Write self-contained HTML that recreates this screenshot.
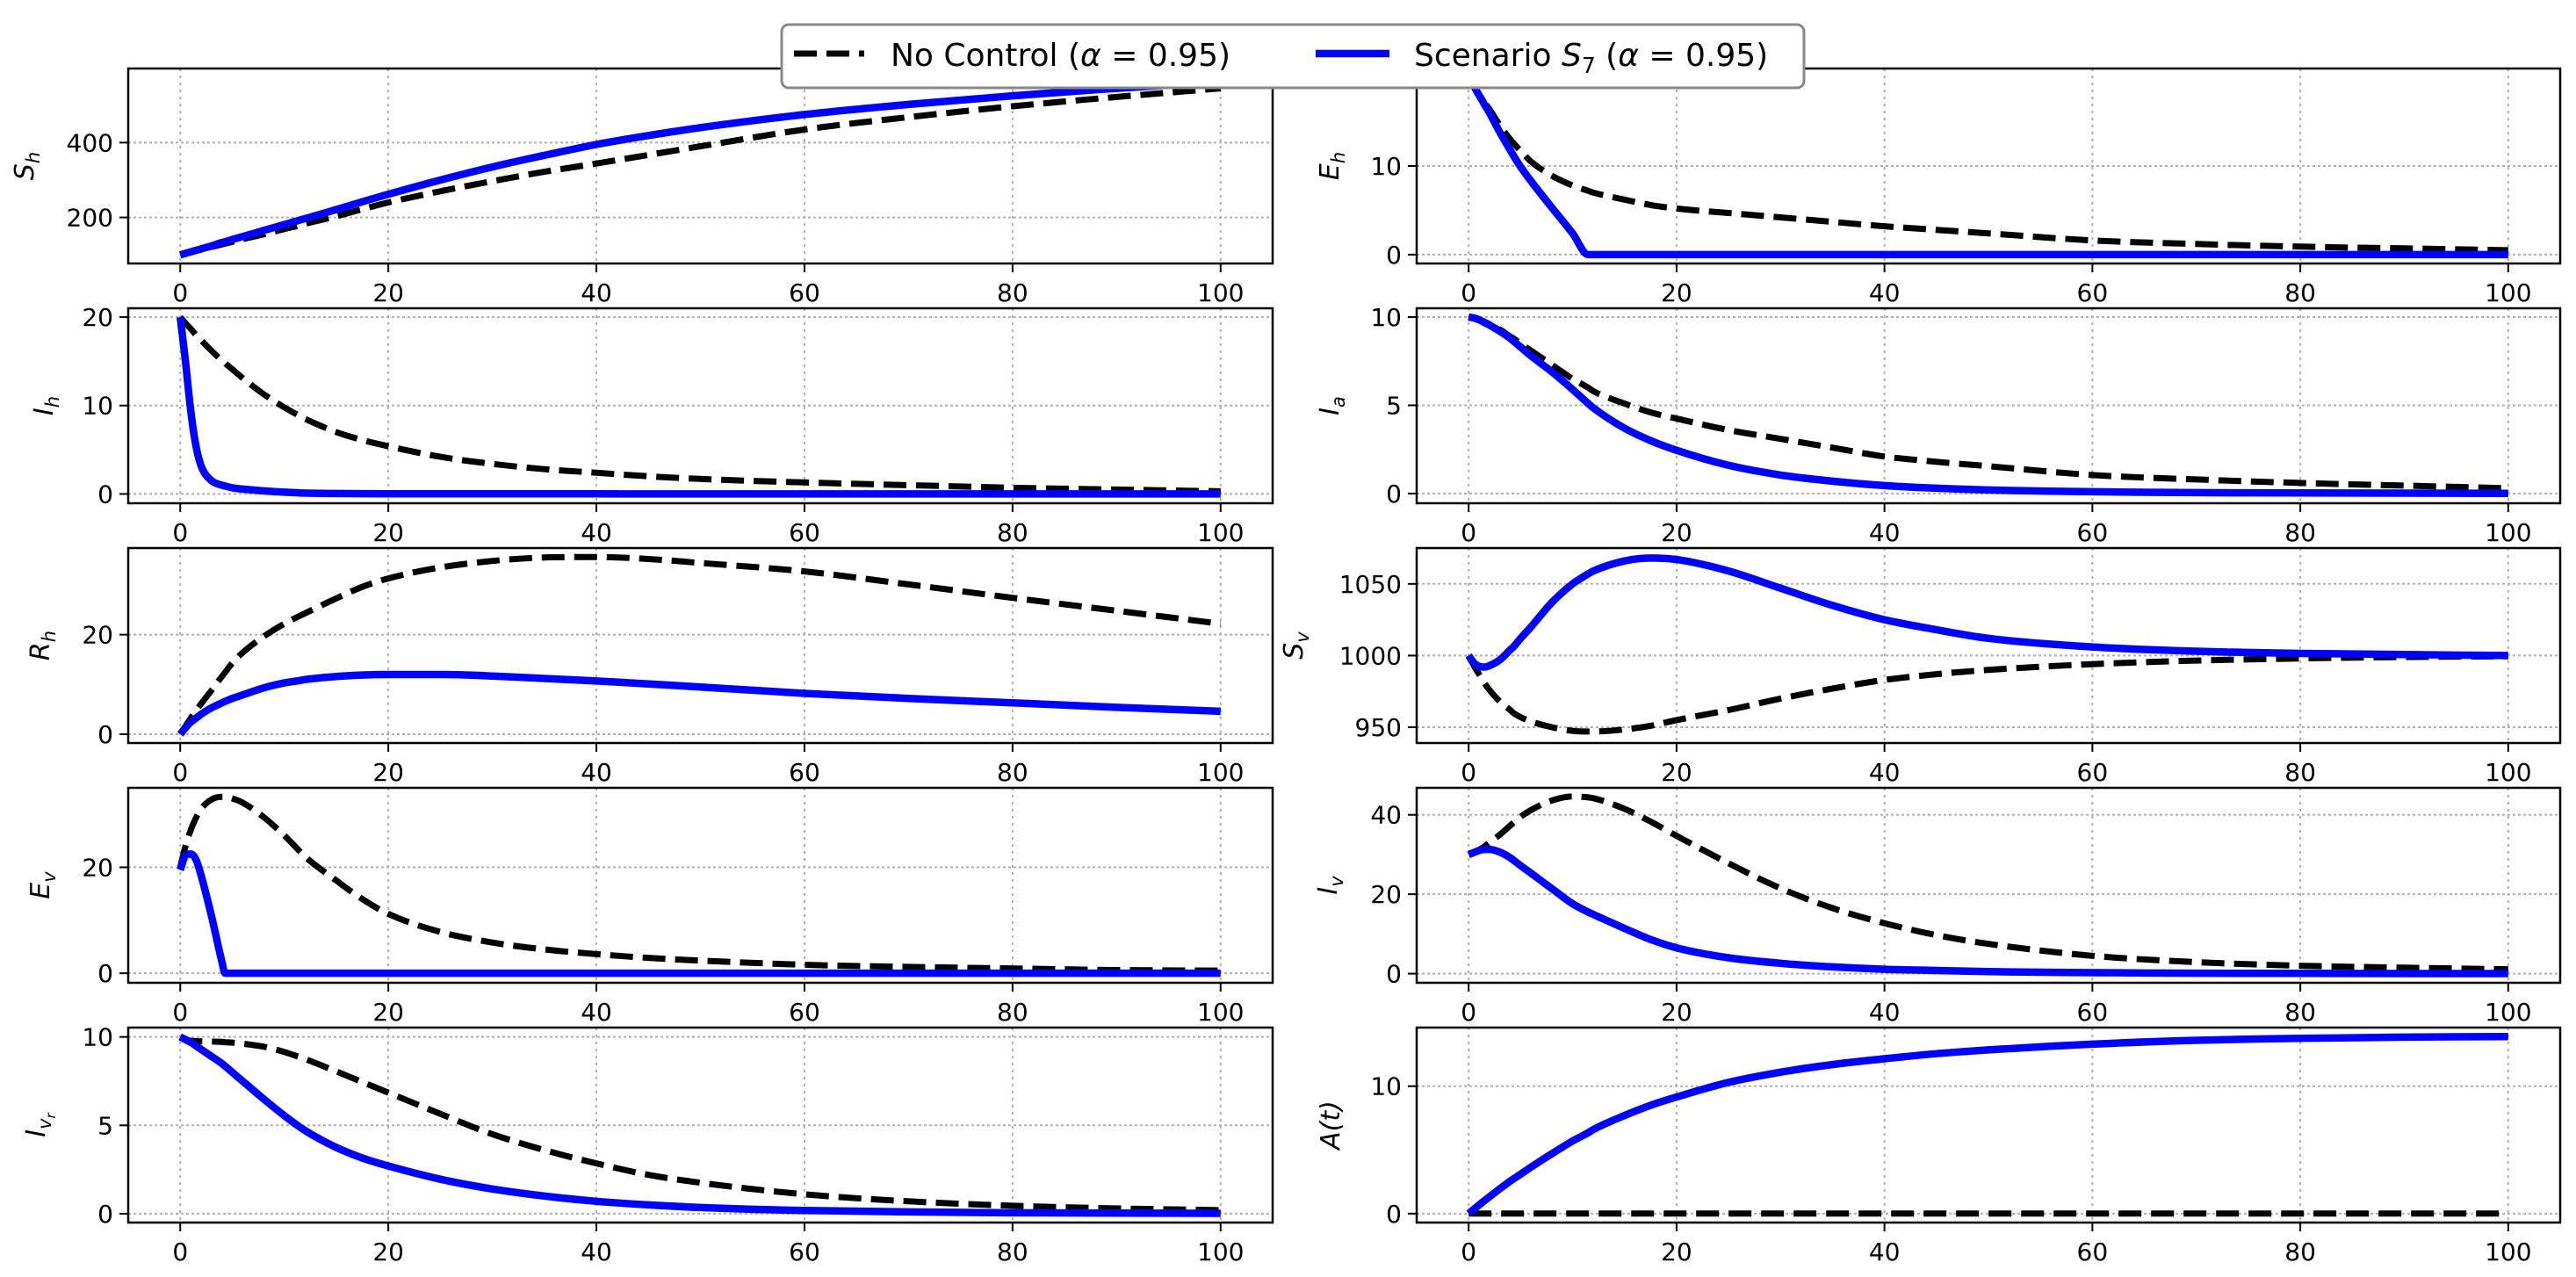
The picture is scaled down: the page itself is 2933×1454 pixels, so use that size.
<!DOCTYPE html>
<html><head><meta charset="utf-8">
<style>
html,body{margin:0;padding:0;background:#fff;}
svg{display:block;font-family:"DejaVu Sans","Liberation Sans",sans-serif;}
</style></head>
<body>
<svg id="fig" width="2933" height="1454" viewBox="0 0 2933 1454" xmlns="http://www.w3.org/2000/svg"></svg>
<script>
const T = [0,0.5,1,1.5,2,3,4,4.3,5,6,8,10,11.5,12,15,17.5,20,25,30,35,40,45,50,60,70,80,90,100];
const xTicks = [0,20,40,60,80,100];

const ShNo = [100,103.5,107,110.5,114,121,128,130,135,142,155,169,179,183,203,222,240,270,297,322,344,367,390,435,468,497,522,545];
const ShS7 = [100,104,108,112,116,124,133,135,141,149,165,181,193,197,221,242,262,300,335,366,395,419,440,475,502,525,545,562];
const EhNo = [20,19,18,17.2,16.4,14.6,13,12.6,11.7,10.5,8.9,7.8,7.2,7,6.2,5.6,5.2,4.7,4.2,3.7,3.2,2.8,2.4,1.6,1.2,0.9,0.7,0.5];
const EhS7 = [20,19,18,17,16,13.8,11.8,11.2,9.9,8.3,5.3,2.4,0,0,0,0,0,0,0,0,0,0,0,0,0,0,0,0];
const IhNo = [20,19.3,18.7,18,17.4,16.2,15.1,14.8,14.1,13.1,11.3,9.8,8.8,8.5,7,6.1,5.4,4.2,3.4,2.8,2.4,2.0,1.7,1.3,1.0,0.7,0.5,0.3];
const IhS7 = [20,15,9.5,5.5,3.2,1.5,1.0,0.9,0.7,0.55,0.35,0.2,0.12,0.1,0.05,0.03,0.02,0.02,0.01,0.01,0.01,0,0,0,0,0,0,0];
const IaNo = [10,9.95,9.85,9.75,9.6,9.3,8.9,8.8,8.5,8.1,7.3,6.5,6.0,5.8,5.1,4.6,4.25,3.6,3.1,2.6,2.1,1.8,1.55,1.05,0.8,0.6,0.45,0.3];
const IaS7 = [10,9.95,9.85,9.7,9.55,9.2,8.8,8.65,8.3,7.8,6.9,5.9,5.1,4.85,3.7,3.0,2.45,1.6,1.05,0.7,0.45,0.3,0.2,0.1,0.05,0.03,0.02,0.01];
const RhNo = [0,1.6,3.2,4.7,6.1,8.8,11.6,12.4,14.3,16.4,19.6,22.2,23.8,24.3,27.3,29.6,31.3,33.5,34.8,35.5,35.6,35.2,34.4,32.7,30.1,27.4,24.8,22.2];
const RhS7 = [0,1.3,2.4,3.2,4,5.3,6.3,6.6,7.2,7.9,9.3,10.3,10.8,11,11.6,11.9,12,12,11.7,11.2,10.7,10.1,9.5,8.2,7.2,6.3,5.4,4.6];
const SvNo = [1000,993,987,981,976,968,962,960,957,954,950,947.5,947,947,948.5,951,955,962,970,977,983,987,990,994,996.5,998,999,999.5];
const SvS7 = [1000,995,992.5,992,993,997,1004,1006,1012,1020,1037,1050,1057,1059,1066,1068,1067,1059,1047,1035,1025,1018,1012,1006,1003,1001.5,1000.7,1000];
const EvNo = [20,24,27,29.3,31,32.8,33.3,33.3,33,32.2,29.5,26,23,22,17.5,14,11.2,7.8,5.8,4.5,3.6,2.9,2.4,1.6,1.2,0.9,0.6,0.5];
const EvS7 = [19.5,22.2,22.5,21.5,18.5,10.8,2.2,0,0,0,0,0,0,0,0,0,0,0,0,0,0,0,0,0,0,0,0,0];
const IvNo = [30,30.5,31.2,32,33,35,37.3,38,39.5,41.2,43.6,44.6,44.4,44.2,41.5,38.3,34.7,27.8,21.5,16.5,12.7,9.7,7.5,4.5,2.9,2.0,1.5,1.1];
const IvS7 = [30,30.5,31,31.3,31.3,30.6,29.2,28.6,27.2,25.3,21.4,17.6,15.5,14.9,11.4,8.6,6.5,4,2.6,1.7,1.1,0.8,0.5,0.25,0.12,0.06,0.03,0.02];
const IvrNo = [10,9.85,9.78,9.76,9.75,9.74,9.72,9.7,9.68,9.62,9.45,9.15,8.85,8.75,8.05,7.45,6.85,5.65,4.5,3.6,2.85,2.2,1.75,1.1,0.7,0.45,0.3,0.2];
const IvrS7 = [10,9.85,9.7,9.5,9.3,8.9,8.5,8.35,8.0,7.5,6.5,5.55,4.9,4.7,3.75,3.15,2.7,1.95,1.4,1.0,0.7,0.5,0.35,0.18,0.1,0.05,0.03,0.02];
const ANo = [0,0,0,0,0,0,0,0,0,0,0,0,0,0,0,0,0,0,0,0,0,0,0,0,0,0,0,0];
const AS7 = [0,0.34,0.67,1.0,1.32,1.95,2.55,2.72,3.1,3.65,4.7,5.7,6.35,6.6,7.7,8.5,9.15,10.3,11.1,11.7,12.15,12.55,12.85,13.3,13.6,13.75,13.85,13.9];

const ShTicks=[200,400], EhTicks=[0,10], IhTicks=[0,10,20], IaTicks=[0,5,10], RhTicks=[0,20];
const SvTicks=[950,1000,1050], EvTicks=[0,20], IvTicks=[0,20,40], IvrTicks=[0,5,10], ATicks=[0,10];

const NS="http://www.w3.org/2000/svg";
const svg=document.getElementById('fig');
function mk(tag,attrs,parent){const e=document.createElementNS(NS,tag);for(const k in attrs)e.setAttribute(k,attrs[k]);(parent||svg).appendChild(e);return e;}

function monoPath(X,Y){
  const n=X.length, d=[], m=new Array(n);
  for(let i=0;i<n-1;i++) d.push((Y[i+1]-Y[i])/(X[i+1]-X[i]));
  m[0]=d[0]; m[n-1]=d[n-2];
  for(let i=1;i<n-1;i++){ m[i]=(d[i-1]*d[i]<=0)?0:(d[i-1]+d[i])/2; }
  for(let i=0;i<n-1;i++){
    if(d[i]===0){m[i]=0;m[i+1]=0;continue;}
    const a=m[i]/d[i], b=m[i+1]/d[i], s=a*a+b*b;
    if(s>9){const t=3/Math.sqrt(s);m[i]=t*a*d[i];m[i+1]=t*b*d[i];}
  }
  let p='M'+X[0].toFixed(1)+','+Y[0].toFixed(1);
  for(let i=0;i<n-1;i++){
    const h=(X[i+1]-X[i])/3;
    p+=' C'+(X[i]+h).toFixed(1)+','+(Y[i]+m[i]*h).toFixed(1)+' '+(X[i+1]-h).toFixed(1)+','+(Y[i+1]-m[i+1]*h).toFixed(1)+' '+X[i+1].toFixed(1)+','+Y[i+1].toFixed(1);
  }
  return p;
}

const colL={x0:146,x1:1449}, colR={x0:1613,x1:2915};
const rowTops=[78,351,624,897,1170]; const AH=222;
const panels=[
 {key:'sh',col:colL,row:0,lim:[77,598],ticks:ShTicks,no:ShNo,s7:ShS7,lab:['S','h'],lx:38},
 {key:'eh',col:colR,row:0,lim:[-1,21],ticks:EhTicks,no:EhNo,s7:EhS7,lab:['E','h'],lx:1524},
 {key:'ih',col:colL,row:1,lim:[-1.05,21],ticks:IhTicks,no:IhNo,s7:IhS7,lab:['I','h'],lx:60},
 {key:'ia',col:colR,row:1,lim:[-0.55,10.5],ticks:IaTicks,no:IaNo,s7:IaS7,lab:['I','a'],lx:1524},
 {key:'rh',col:colL,row:2,lim:[-1.76,37.4],ticks:RhTicks,no:RhNo,s7:RhS7,lab:['R','h'],lx:56},
 {key:'sv',col:colR,row:2,lim:[939,1075],ticks:SvTicks,no:SvNo,s7:SvS7,lab:['S','v'],lx:1483},
 {key:'ev',col:colL,row:3,lim:[-1.8,35],ticks:EvTicks,no:EvNo,s7:EvS7,lab:['E','v'],lx:56},
 {key:'iv',col:colR,row:3,lim:[-2.3,46.8],ticks:IvTicks,no:IvNo,s7:IvS7,lab:['I','v'],lx:1522},
 {key:'ivr',col:colL,row:4,lim:[-0.5,10.53],ticks:IvrTicks,no:IvrNo,s7:IvrS7,lab:['I','vr'],lx:51},
 {key:'a',col:colR,row:4,lim:[-0.7,14.6],ticks:ATicks,no:ANo,s7:AS7,lab:['A(t)',''],lx:1525}
];

panels.forEach((p,i)=>{
  const x0=p.col.x0,x1=p.col.x1,y0=rowTops[p.row],y1=y0+AH;
  const xs=v=>x0+(v+5)/110*(x1-x0);
  const ys=v=>y1-(v-p.lim[0])/(p.lim[1]-p.lim[0])*AH;
  const g=mk('g',{});
  
  
  const cp=mk('clipPath',{id:'cp'+i},g);
  mk('rect',{x:x0,y:y0,width:x1-x0,height:AH},cp);
  xTicks.forEach(t=>{const l=mk('line',{x1:xs(t),x2:xs(t),y1:y0,y2:y1,stroke:'#b0b0b0','stroke-width':2,'stroke-dasharray':'3,5'},g);
    
    });
  p.ticks.forEach(t=>{const l=mk('line',{x1:x0,x2:x1,y1:ys(t),y2:ys(t),stroke:'#b0b0b0','stroke-width':2,'stroke-dasharray':'3,3'},g);
    
    });
  const X=T.map(xs);
  const ln=mk('path',{d:monoPath(X,p.no.map(ys)),fill:'none',stroke:'#000','stroke-width':7,'stroke-dasharray':'26,11','clip-path':'url(#cp'+i+')','stroke-linejoin':'round'},g);
  
  
  const lb=mk('path',{d:monoPath(X,p.s7.map(ys)),fill:'none',stroke:'#0000ff','stroke-width':8.5,'clip-path':'url(#cp'+i+')','stroke-linejoin':'round'},g);
  
  
  const fr=mk('rect',{x:x0,y:y0,width:x1-x0,height:AH,fill:'none',stroke:'#000','stroke-width':2.5},g);
  
  
  xTicks.forEach(t=>{mk('line',{x1:xs(t),x2:xs(t),y1:y1,y2:y1+10,stroke:'#000','stroke-width':2},g);
    const tx=mk('text',{x:xs(t),y:y1+43,'font-size':28,'text-anchor':'middle',fill:'#000'},g);tx.textContent=t;
    
    });
  p.ticks.forEach(t=>{mk('line',{x1:x0-10,x2:x0,y1:ys(t),y2:ys(t),stroke:'#000','stroke-width':2},g);
    const tx=mk('text',{x:x0-17,y:ys(t)+10,'font-size':28,'text-anchor':'end',fill:'#000'},g);tx.textContent=t;
    
    });
  const cy=(y0+y1)/2;
  const yl=mk('text',{x:p.lx,y:cy,'font-size':30,'font-style':'italic','text-anchor':'middle',transform:'rotate(-90 '+p.lx+' '+cy+')',fill:'#000'},g);
  
  
  yl.appendChild(document.createTextNode(p.lab[0]));
  if(p.lab[1]){const ts=mk('tspan',{'font-size':21,dy:7},yl);ts.textContent=p.lab[1]==='vr'?'v':p.lab[1];
    if(p.lab[1]==='vr'){const t2=mk('tspan',{'font-size':15,dy:5},yl);t2.textContent='r';}}
});
</script>
<svg x="0" y="0" width="2933" height="1454" style="position:absolute;left:0;top:0" xmlns="http://www.w3.org/2000/svg">
  <rect x="890" y="28" width="1164" height="72" rx="8" fill="#fff" stroke="#888" stroke-width="3"/>
  <line x1="904" y1="61" x2="984" y2="61" stroke="#000" stroke-width="7" stroke-dasharray="26,11"/>
  <text x="1014" y="75" font-size="36" font-family="DejaVu Sans, Liberation Sans, sans-serif">No Control (<tspan font-style="italic">α</tspan> = 0.95)</text>
  <line x1="1498" y1="61" x2="1582" y2="61" stroke="#0000ff" stroke-width="8.5"/>
  <text x="1610" y="75" font-size="36" font-family="DejaVu Sans, Liberation Sans, sans-serif">Scenario <tspan font-style="italic">S</tspan><tspan font-size="25" dy="8">7</tspan><tspan dy="-8"> (</tspan><tspan font-style="italic">α</tspan> = 0.95)</text>
</svg>
</body></html>
